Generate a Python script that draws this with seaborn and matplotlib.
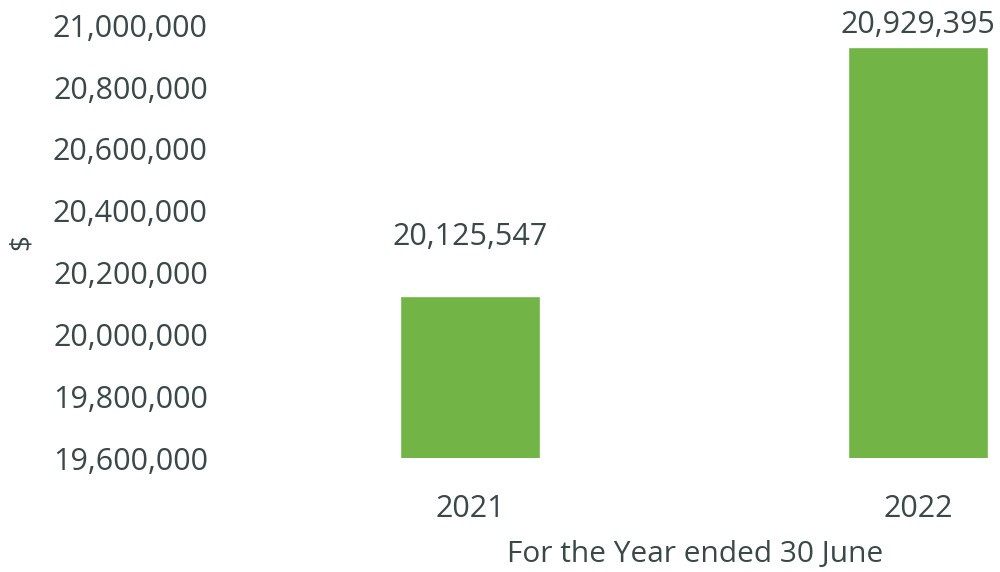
import matplotlib
matplotlib.use("Agg")
import matplotlib.pyplot as plt
import seaborn as sns
import pandas as pd

years = ["2021", "2022"]
revenue = [20125547, 20929395]
y_ticks = [19600000, 19800000, 20000000, 20200000, 20400000, 20600000, 20800000, 21000000]

bar_color = "#72b446"
text_color = "#3b4848"

sns.set_theme(style="white")
plt.rcParams["font.family"] = ["Open Sans", "DejaVu Sans"]

df = pd.DataFrame({"year": years, "revenue": revenue})

fig = plt.figure(figsize=(10, 5.72), dpi=100)
ax = fig.add_axes([0.23, 0.199, 0.77, 0.757])

sns.barplot(data=df, x="year", y="revenue", color=bar_color, saturation=1,
            width=0.3125, ax=ax)

ax.set_ylim(y_ticks[0], y_ticks[-1])
ax.set_xlim(-0.536, 1.183)
ax.set_yticks(y_ticks)
ax.set_yticklabels([f"{v:,}" for v in y_ticks])
ax.tick_params(axis="y", length=0, pad=16, labelsize=22, labelcolor=text_color)
ax.tick_params(axis="x", length=0, pad=26, labelsize=22, labelcolor=text_color)
for s in ax.spines.values():
    s.set_visible(False)

ax.set_xlabel("For the Year ended 30 June", fontsize=21.5, color=text_color)
ax.xaxis.set_label_coords(0.604, -0.19)
ax.set_ylabel("$", fontsize=20, color=text_color, labelpad=12)

# value labels above each bar
label_offsets = [42, 16]
for i, (v, off) in enumerate(zip(revenue, label_offsets)):
    ax.annotate(f"{v:,}", xy=(i, v), xytext=(0, off), textcoords="offset points",
                ha="center", va="center", fontsize=22, color=text_color,
                annotation_clip=False)

fig.savefig("out.png", dpi=100, facecolor="white")
